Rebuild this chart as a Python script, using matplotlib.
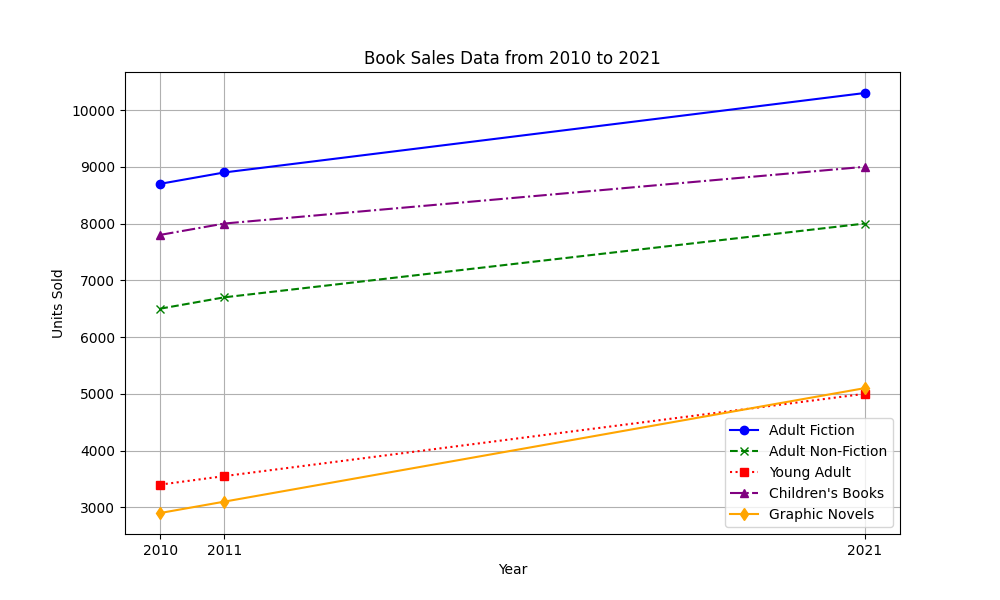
import matplotlib
matplotlib.use('Agg')
import matplotlib.pyplot as plt

years = [2010, 2011, 2021]
adult_fiction = [8700, 8900, 10300]
adult_non_fiction = [6500, 6700, 8000]
young_adult = [3400, 3550, 5000]
childrens_books = [7800, 8000, 9000]
graphic_novels = [2900, 3100, 5100]

plt.figure(figsize=(10, 6))
plt.plot(years, adult_fiction, marker='o', linestyle='-', color='blue', label='Adult Fiction')
plt.plot(years, adult_non_fiction, marker='x', linestyle='--', color='green', label='Adult Non-Fiction')
plt.plot(years, young_adult, marker='s', linestyle=':', color='red', label='Young Adult')
plt.plot(years, childrens_books, marker='^', linestyle='-.', color='purple', label="Children's Books")
plt.plot(years, graphic_novels, marker='d', linestyle='-', color='orange', label='Graphic Novels')

plt.title('Book Sales Data from 2010 to 2021')
plt.xlabel('Year')
plt.ylabel('Units Sold')
plt.xticks(years)
plt.grid(True)
plt.legend(loc='lower right')
plt.savefig('out.png', dpi=100)
